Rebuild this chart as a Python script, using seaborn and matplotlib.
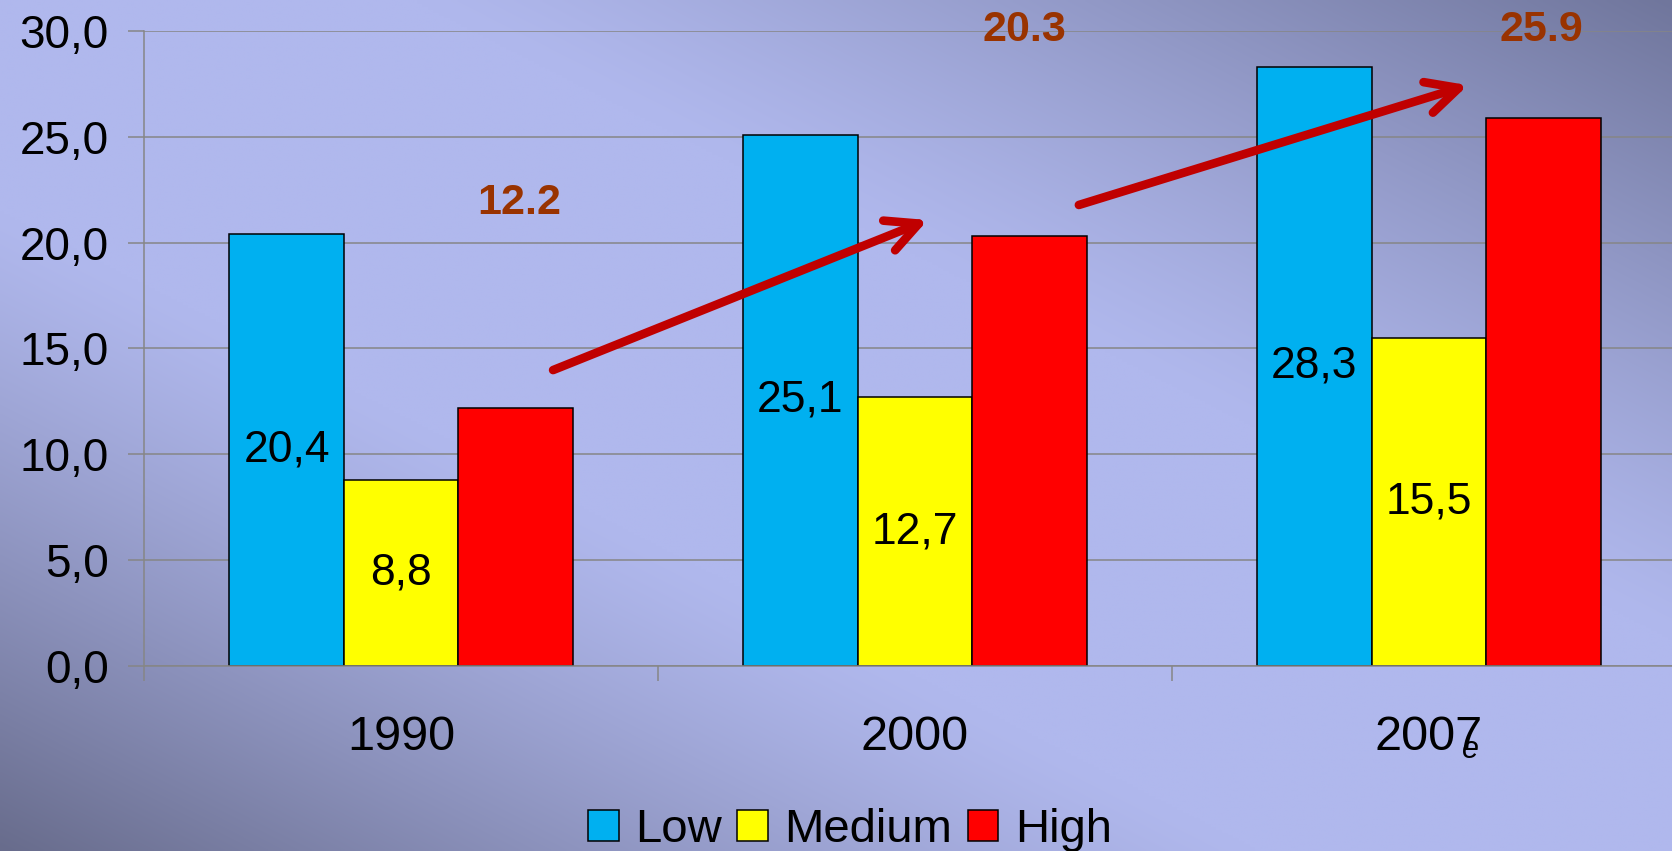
import numpy as np
import pandas as pd
import matplotlib
matplotlib.use("Agg")
import matplotlib.pyplot as plt
import matplotlib.transforms as mtransforms
from matplotlib.ticker import FuncFormatter
import seaborn as sns

# ---- data ----
years = ["1990", "2000", "2007"]
levels = ["Low", "Medium", "High"]
low = [20.4, 25.1, 28.3]
medium = [8.8, 12.7, 15.5]
high = [12.2, 20.3, 25.9]
growth_labels = ["12.2", "20.3", "25.9"]
yticks = [0, 5, 10, 15, 20, 25, 30]

# ---- styling / annotation placement ----
bar_colors = ["#00B0F0", "#FFFF00", "#FF0000"]
growth_x = [0.23, 1.212, 2.218]
growth_y = [21.85, 30.04, 30.04]
arrow_starts = [(0.296, 13.98), (1.319, 21.78)]
arrow_ends = [(1.025, 21.07), (2.076, 27.44)]

plt.rcParams["font.family"] = ["Liberation Sans", "DejaVu Sans"]

df = pd.DataFrame({
    "year": years * 3,
    "level": np.repeat(levels, len(years)),
    "value": low + medium + high,
})

fig = plt.figure(figsize=(16.72, 8.51), dpi=100)

# background gradient
bg = fig.add_axes([0, 0, 1, 1], zorder=-10)
H, W = 300, 600
u = np.linspace(0, 1, W)[None, :]
v = np.linspace(0, 1, H)[:, None]
d = v - u
t = np.clip((np.abs(d) - 0.25) / 0.75, 0, 1) ** 1.2
light = np.array([176, 184, 237]) / 255
dark_bl = np.array([104, 108, 140]) / 255
dark_tr = np.array([112, 118, 156]) / 255
dark = np.where((d > 0)[..., None], dark_bl, dark_tr)
img = light * (1 - t[..., None]) + dark * t[..., None]
bg.imshow(img, aspect="auto", extent=[0, 1, 0, 1], interpolation="bilinear")
bg.set_axis_off()

ax = fig.add_axes([0.0861, 0.2174, 0.9222, 0.7462])
ax.set_facecolor("none")

sns.barplot(data=df, x="year", y="value", hue="level", order=years,
            hue_order=levels, palette=bar_colors, saturation=1,
            width=0.668, gap=0, edgecolor="black", linewidth=1.1,
            errorbar=None, ax=ax)

ax.set_xlim(-0.5, 2.5)
ax.set_ylim(0, 30)
ax.set_yticks(yticks)
ax.yaxis.set_major_formatter(FuncFormatter(lambda val, pos: f"{val:.1f}".replace(".", ",")))
ax.yaxis.grid(True, color="#868686", lw=1.1)
ax.set_axisbelow(True)
for s in ["top", "right"]:
    ax.spines[s].set_visible(False)
for s in ["left", "bottom"]:
    ax.spines[s].set_color("#868686")
    ax.spines[s].set_linewidth(1.1)

ax.tick_params(axis="y", length=11.5, color="#868686", width=1.1, pad=14,
               labelsize=33)
ax.tick_params(axis="x", which="major", length=0, pad=35, labelsize=35)
ax.set_xticks([-0.5, 0.5, 1.5], minor=True)
ax.tick_params(axis="x", which="minor", length=10.8, color="#868686", width=1.1)
ax.set_xlabel("")
ax.set_ylabel("")

# value labels inside Low & Medium bars
for cont in ax.containers[:2]:
    ax.bar_label(cont, labels=[f"{p.get_height():.1f}".replace(".", ",") for p in cont],
                 label_type="center", fontsize=32, color="black")

# "e" suffix of 2007e
trans = mtransforms.blended_transform_factory(ax.transData, ax.transAxes)
ax.text(2.08, -0.132, "e", transform=trans, style="italic", fontsize=22,
        ha="center", va="center", clip_on=False)

# growth annotations
for gx, gy, lab in zip(growth_x, growth_y, growth_labels):
    ax.text(gx, gy, lab, ha="center", va="center", color="#993300",
            fontsize=31, fontweight="bold", clip_on=False)

for st, en in zip(arrow_starts, arrow_ends):
    ax.annotate("", xy=en, xytext=st,
                arrowprops=dict(arrowstyle="->,head_length=2.3,head_width=1.15",
                                color="#C00000", lw=6.2, shrinkA=0, shrinkB=0,
                                capstyle="round", joinstyle="round",
                                mutation_scale=10))

handles, labels = ax.get_legend_handles_labels()
if ax.get_legend() is not None:
    ax.get_legend().remove()
fig.legend(handles, labels, loc="center", bbox_to_anchor=(0.5084, 0.0247),
           ncol=3, frameon=False, fontsize=34, handlelength=0.64,
           handleheight=0.64, handletextpad=0.36, columnspacing=0.32,
           borderaxespad=0, borderpad=0)

fig.savefig("out.png", dpi=100)
